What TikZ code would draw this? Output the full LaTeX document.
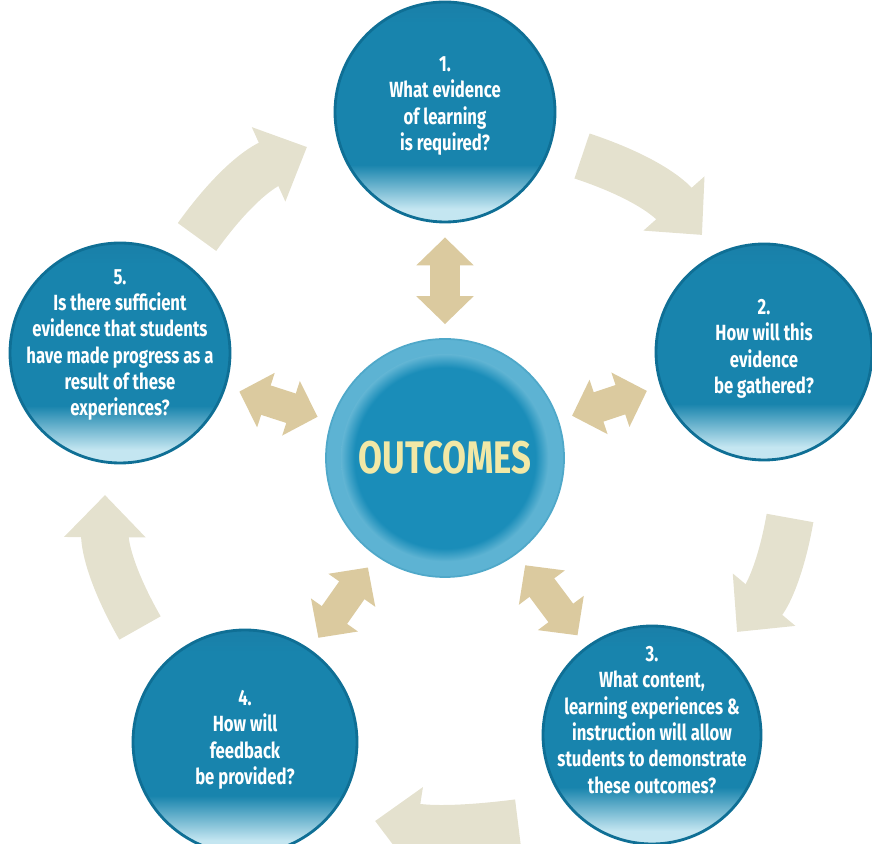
\documentclass[tikz,border=0pt]{standalone}
\usepackage{fontspec}
\setmainfont{Fira Sans}[FakeStretch=0.76]
\usetikzlibrary{arrows.meta}

\definecolor{bubbletop}{HTML}{1A7FA8}
\definecolor{bubblemain}{HTML}{1884AD}
\definecolor{bubblelow}{HTML}{C4E6F1}
\definecolor{bubblerim}{HTML}{0F6F95}
\definecolor{hubring}{HTML}{5DB3D3}
\definecolor{hubedge}{HTML}{4FA8C9}
\definecolor{hubcore}{HTML}{1A8DB9}
\definecolor{hubglow}{HTML}{97D3E8}
\definecolor{linktan}{HTML}{DBCA9F}
\definecolor{cyclegrey}{HTML}{E4E1CE}
\definecolor{outtext}{HTML}{F1E8A6}

\pgfdeclareverticalshading{bubble}{100bp}{color(0bp)=(bubblelow); color(25bp)=(bubblelow); color(28bp)=(bubblelow); color(38bp)=(bubblemain); color(70bp)=(bubblemain); color(75bp)=(bubbletop); color(100bp)=(bubbletop)}
\pgfdeclareradialshading{glow}{\pgfpoint{0bp}{0bp}}{color(0bp)=(hubcore); color(19bp)=(hubcore); color(24bp)=(hubglow); color(25bp)=(hubglow); color(50bp)=(hubglow)}

\tikzset{
  question/.style={circle, shade, shading=bubble, draw=bubblerim, line width=1.6pt, inner sep=0pt},
  qtext/.style={text=white, font=\bfseries\fontsize{12.5}{15}\selectfont, align=center},
  linkarrow/.style={draw=linktan, line width=17.6pt, >={Triangle[width=31.7pt,length=15.9pt]}, <->,
    shorten <=2.8mm, shorten >=2.8mm},
  cyclearrow/.style={draw=cyclegrey, line width=27pt, -{Triangle[width=45pt,length=24pt]}},
}

\begin{document}
\begin{tikzpicture}[x=0.2mm, y=0.2mm]
\useasboundingbox (0,0) rectangle (872,843);

\node (hub) [circle, minimum size=47.6mm, fill=hubring, draw=hubedge, line width=1pt,
  path picture={\shade[shading=glow] (path picture bounding box.center) circle (20.8mm);},
  text=outtext, font=\bfseries\fontsize{26}{30}\selectfont] at (445,385) {OUTCOMES};

\node (q1) [question, minimum size=44mm,
  label={[qtext, yshift=1.2mm]center:{1.\\What evidence\\of learning\\is required?}}] at (445,731) {};
\node (q2) [question, minimum size=43.2mm,
  label={[qtext, yshift=0.6mm]center:{2.\\How will this\\evidence\\be gathered?}}] at (764,491) {};
\node (q3) [question, minimum size=43.6mm,
  label={[qtext, yshift=3mm]center:{3.\\What content,\\learning experiences \&\\instruction will allow\\students to demonstrate\\these outcomes?}}] at (652,108) {};
\node (q4) [question, minimum size=44.8mm,
  label={[qtext, yshift=0.4mm]center:{4.\\How will\\feedback\\be provided?}}] at (245,101) {};
\node (q5) [question, minimum size=44mm,
  label={[qtext, yshift=1.6mm]center:{5.\\Is there sufficient\\evidence that students\\have made progress as a\\result of these\\experiences?}}] at (120,490) {};

% hub to each question
\draw[linkarrow] (hub) -- (q1);
\draw[linkarrow] (hub) -- (q2);
\draw[linkarrow] (hub) -- (q3);
\draw[linkarrow] (hub) -- (q4);
\draw[linkarrow] (hub) -- (q5);

% the cycle round the outside
\coordinate (t12) at (582,687); \coordinate (h12) at (702,608);
\coordinate (t23) at (790,325); \coordinate (h23) at (737,211);
\coordinate (t34) at (518,20);  \coordinate (h34) at (375,22);
\coordinate (t45) at (140,215); \coordinate (h45) at (105,348);
\coordinate (t51) at (197,606); \coordinate (h51) at (307,696);
\draw[cyclearrow] (t12) to[bend left=15] (h12);
\draw[cyclearrow] (t23) to[bend left=15] (h23);
\draw[cyclearrow] (t34) to[bend left=8] (h34);
\draw[cyclearrow] (t45) to[bend left=15] (h45);
\draw[cyclearrow] (t51) to[bend left=15] (h51);

\end{tikzpicture}
\end{document}
